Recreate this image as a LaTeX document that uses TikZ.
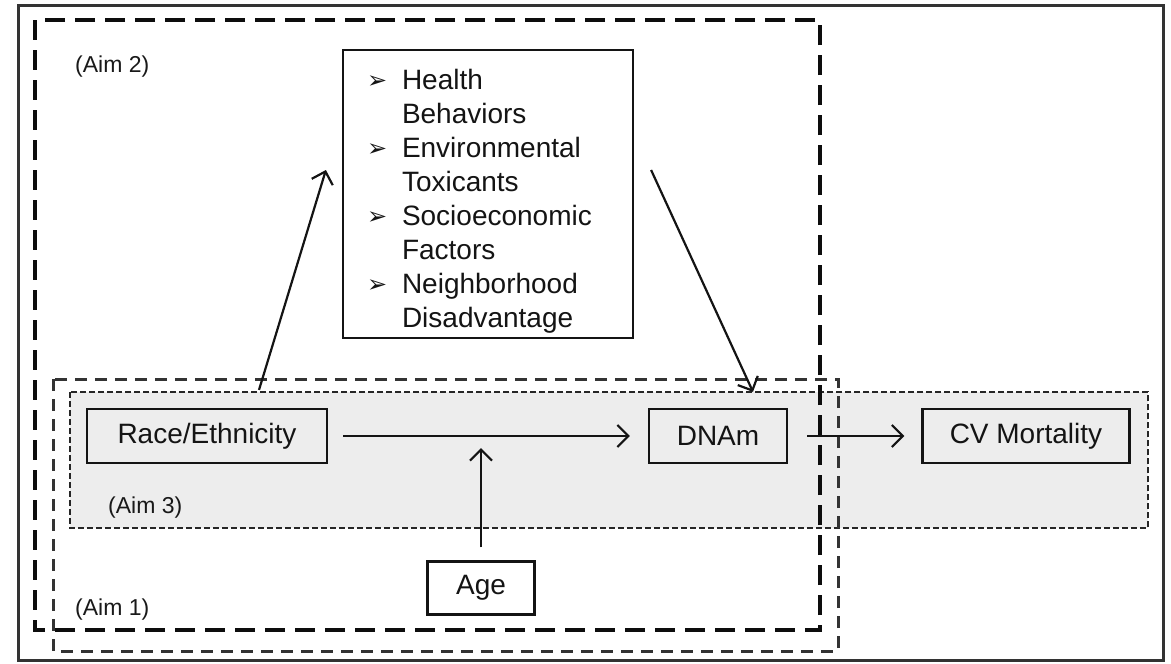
\documentclass[tikz,border=0pt]{standalone}
\usepackage{fontspec}
\setmainfont{Liberation Sans}
\newfontfamily\dejavu{DejaVu Sans}
\usetikzlibrary{arrows.meta,calc}
\newcommand\bul{\makebox[35pt][l]{\dejavu\fontsize{24}{24}\selectfont\raisebox{1pt}{➢}}}
\begin{document}
\begin{tikzpicture}[x=1pt,y=-1pt,
  box/.style={draw=black!92, line width=2.2pt, inner sep=0pt, font=\fontsize{28}{34}\selectfont, text=black!92},
  arr/.style={draw=black!92, line width=2.2pt, -{Straight Barb[length=11pt,width=22pt,line width=2.2pt]}},
  aimlabel/.style={font=\fontsize{23}{27}\selectfont, text=black!90, inner sep=0pt, anchor=west},
]
\useasboundingbox (0,0) rectangle (1171,664);
% Aim 3 shaded region
\draw[fill=black!7, draw=black!85, line width=2.6pt, dash pattern=on 6pt off 3pt] (70,392) rectangle (1148,528);
% outer frame
\draw[black!80, line width=3pt] (18,5) rectangle (1163,660);
% Aim 2 region
\draw[black!95, line width=3.5pt, dash pattern=on 20pt off 10pt] (35,20) rectangle (820,630);
% Aim 1 region
\draw[black!80, line width=3pt, dash pattern=on 12pt off 8pt] (53,379) rectangle (838,651);

\node[box, minimum width=240pt, minimum height=54pt] (race) at (207,436) {Race/Ethnicity};
\node[box, minimum width=138pt, minimum height=54pt] (dnam) at (718,436) {DNAm};
\node[box, minimum width=207pt, minimum height=54pt] (cv) at (1026,436) {CV Mortality};
\node[box, minimum width=107pt, minimum height=53pt] (age) at (481,588) {Age};
\node[box, minimum width=290pt, minimum height=288pt, align=left, text width=242pt] (factors) at (488,194)
 {\rule{0pt}{34pt}\bul Health\\
  \hspace*{35pt}Behaviors\\
  \bul Environmental\\
  \hspace*{35pt}Toxicants\\
  \bul Socioeconomic\\
  \hspace*{35pt}Factors\\
  \bul Neighborhood\\
  \hspace*{35pt}Disadvantage};

\node[aimlabel] (aim2) at (75,67) {(Aim 2)};
\node[aimlabel] (aim3) at (108,508) {(Aim 3)};
\node[aimlabel] (aim1) at (75,610) {(Aim 1)};

\coordinate (agehit) at (481,448);
\draw[arr, shorten <=15pt, shorten >=18pt] (race.east) -- (dnam.west);
\draw[arr, shorten <=19pt, shorten >=17pt] (dnam.east) -- (cv.west);
\draw[arr] ($(age.north)+(0,-13)$) -- (agehit);
\draw[arr] ($(race.north)+(52,-18)$) -- ($(factors.west)+(-16,-24)$);
\draw[arr] ($(factors.east)+(17,-24)$) -- ($(dnam.north)+(35,-16)$);
\end{tikzpicture}
\end{document}
